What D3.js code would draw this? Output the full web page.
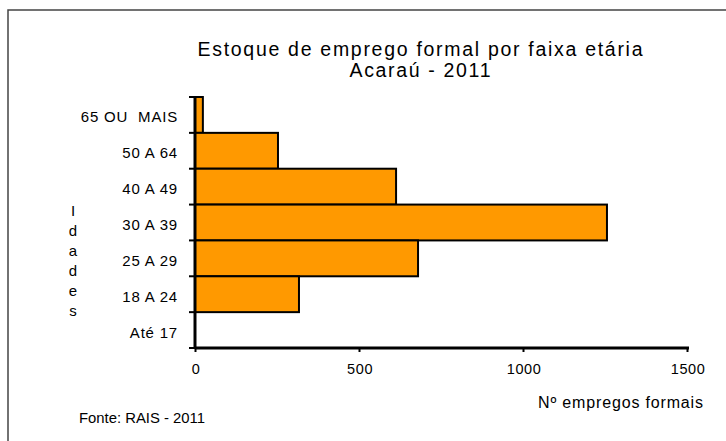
<!DOCTYPE html>
<html>
<head>
<meta charset="utf-8">
<script src="https://cdn.jsdelivr.net/npm/d3@7"></script>
<style>
  body { margin: 0; background: #fff; }
  svg { font-family: "Liberation Sans", Arial, sans-serif; }
</style>
</head>
<body>
<svg id="chart" width="726" height="441"></svg>
<script>
// faixas etárias, de cima para baixo
const faixas = ["65 OU  MAIS", "50 A 64", "40 A 49", "30 A 39", "25 A 29", "18 A 24", "Até 17"];
// nº de empregos formais por faixa
const empregos = [24, 253, 613, 1256, 680, 317, 0];
const xTicks = [0, 500, 1000, 1500];
const titulo = ["Estoque de emprego formal por faixa etária", "Acaraú - 2011"];

const svg = d3.select("#chart");

// moldura (só topo e esquerda aparecem)
svg.append("path")
    .attr("d", "M8,441 L8,10 L726,10")
    .attr("fill", "none")
    .attr("stroke", "#444")
    .attr("stroke-width", 1.5);

// titulo
const larguras = [445, 141];
svg.append("g").selectAll("text")
    .data(titulo)
    .enter()
    .append("text")
    .attr("x", 420)
    .attr("y", (d, i) => 56 + i * 21)
    .attr("text-anchor", "middle")
    .attr("font-size", 19.5)
    .attr("textLength", (d, i) => larguras[i])
    .attr("lengthAdjust", "spacing")
    .text(d => d);

const x = d3.scaleLinear().domain([0, 1500]).range([195, 687]);
const y = d3.scaleBand().domain(faixas).range([97, 348]).paddingInner(0).paddingOuter(0);

const data = faixas.map((f, i) => ({ faixa: f, valor: empregos[i] }));

// barras
svg.append("g").selectAll("rect")
    .data(data.filter(d => d.valor > 0))
    .enter()
    .append("rect")
    .attr("x", x(0))
    .attr("y", d => y(d.faixa))
    .attr("width", d => x(d.valor) - x(0))
    .attr("height", y.bandwidth())
    .attr("fill", "#FF9900")
    .attr("stroke", "#000")
    .attr("stroke-width", 2);

// eixo x
const xAxis = svg.append("g")
    .attr("transform", "translate(0,348)")
    .call(d3.axisBottom(x).tickValues(xTicks).tickSize(4).tickPadding(12).tickFormat(d3.format("d")));
xAxis.select(".domain").attr("stroke", "#000").attr("stroke-width", 3).attr("d", "M195,0H689");
xAxis.selectAll(".tick line").attr("stroke", "#000").attr("stroke-width", 2);
xAxis.selectAll("text").attr("font-size", 14.5).attr("fill", "#000")
    .attr("letter-spacing", 0.6).attr("dx", 0.6)
    .attr("font-family", "Liberation Sans, Arial, sans-serif");

// eixo y: rotulos no centro, marcas nas divisas
const yAxis = svg.append("g")
    .attr("transform", "translate(195,0)")
    .call(d3.axisLeft(y).tickSize(0).tickPadding(17));
yAxis.select(".domain").remove();
yAxis.selectAll("text").attr("font-size", 15).attr("fill", "#000")
    .attr("letter-spacing", 0.8).attr("dy", "0.5em")
    .style("white-space", "pre")
    .attr("font-family", "Liberation Sans, Arial, sans-serif");

const bordas = faixas.map(f => y(f)).concat([y.range()[1]]);
svg.append("g").selectAll("line")
    .data(bordas)
    .enter()
    .append("line")
    .attr("x1", 189)
    .attr("x2", 195)
    .attr("y1", d => d)
    .attr("y2", d => d)
    .attr("stroke", "#000")
    .attr("stroke-width", 2);
svg.append("line")
    .attr("x1", 195).attr("x2", 195)
    .attr("y1", 97).attr("y2", 349)
    .attr("stroke", "#000")
    .attr("stroke-width", 3);

// titulo do eixo y, letras empilhadas
svg.append("g").selectAll("text")
    .data("Idades".split(""))
    .enter()
    .append("text")
    .attr("x", 73)
    .attr("y", (d, i) => 216 + i * 20)
    .attr("text-anchor", "middle")
    .attr("font-size", 15)
    .text(d => d);

// titulo do eixo x
svg.append("text")
    .attr("x", 703)
    .attr("y", 408)
    .attr("text-anchor", "end")
    .attr("font-size", 16)
    .attr("textLength", 165)
    .attr("lengthAdjust", "spacing")
    .text("Nº empregos formais");

// fonte
svg.append("text")
    .attr("x", 79)
    .attr("y", 423)
    .attr("font-size", 14)
    .attr("textLength", 126)
    .attr("lengthAdjust", "spacingAndGlyphs")
    .text("Fonte: RAIS - 2011");
</script>
</body>
</html>
